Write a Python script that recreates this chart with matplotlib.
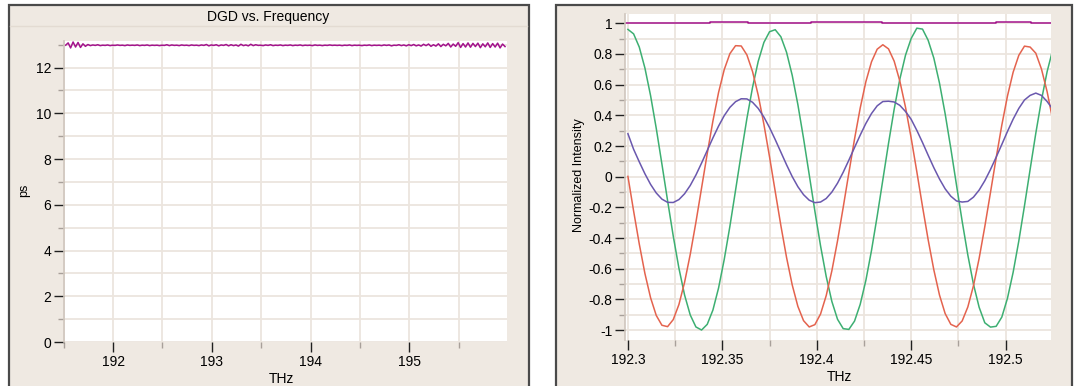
import numpy as np
import matplotlib
matplotlib.use('Agg')
import matplotlib.pyplot as plt
from matplotlib.patches import Rectangle
from matplotlib.ticker import MultipleLocator, FuncFormatter

W, H = 1074, 386

# DGD trace, sampled every 0.025 THz from 191.52 THz
dgd_start = 191.52
dgd_step = 0.025
dgd_ps = [
    12.98, 13.08, 12.86, 13.12, 12.90, 13.10, 12.88, 13.04, 12.93, 13.01,
    12.96, 12.99, 12.97, 13.00, 12.96, 12.98, 12.97, 12.99, 12.96, 12.98,
    12.97, 12.99, 12.97, 12.98, 12.96, 12.99, 12.97, 12.98, 12.97, 12.99,
    12.96, 12.98, 12.97, 12.99, 12.96, 12.98, 12.97, 12.98, 12.96, 12.98,
    12.97, 13.00, 12.96, 12.99, 12.97, 12.98, 12.96, 12.99, 12.97, 12.98,
    12.96, 12.99, 12.97, 12.98, 12.96, 12.99, 12.97, 13.01, 12.95, 12.99,
    12.97, 13.00, 12.95, 12.99, 12.97, 13.01, 12.95, 13.00, 12.96, 12.99,
    12.94, 13.02, 12.96, 12.99, 12.95, 13.02, 12.96, 13.00, 12.97, 12.98,
    12.96, 12.99, 12.97, 13.00, 12.96, 12.98, 12.97, 12.99, 12.96, 12.98,
    12.97, 12.99, 12.96, 12.98, 12.97, 12.99, 12.96, 12.98, 12.97, 12.98,
    12.96, 12.99, 12.97, 12.98, 12.96, 12.98, 12.97, 12.99, 12.97, 12.98,
    12.97, 12.98, 12.96, 12.98, 12.97, 12.99, 12.96, 12.98, 12.97, 12.98,
    12.96, 12.98, 12.97, 12.99, 12.96, 12.98, 12.97, 12.98, 12.96, 12.99,
    12.97, 12.99, 12.95, 12.98, 12.97, 13.00, 12.96, 12.99, 12.95, 13.00,
    12.96, 13.01, 12.95, 12.99, 12.94, 13.02, 12.96, 13.03, 12.93, 13.00,
    12.94, 13.04, 12.92, 13.02, 12.95, 13.06, 12.90, 13.03, 12.93, 13.09,
    12.88, 13.05, 12.90, 13.08, 12.89, 13.06, 12.92, 13.07, 12.87, 13.04,
    12.91, 13.08, 12.88, 13.05, 12.90, 13.07, 12.86, 13.03, 12.92,
]
freq_dgd = np.round(dgd_start + dgd_step * np.arange(len(dgd_ps)), 3)

# normalized intensities, sampled every 0.003 THz from 192.300 THz
norm_start = 192.300
norm_step = 0.003
green = [
    0.960, 0.931, 0.845, 0.708, 0.528, 0.315, 0.082, -0.156, -0.387, -0.596,
    -0.771, -0.901, -0.979, -0.999, -0.962, -0.869, -0.725, -0.539, -0.323, -0.088,
    0.150, 0.379, 0.583, 0.752, 0.875, 0.945, 0.958, 0.912, 0.811, 0.661,
    0.470, 0.250, 0.014, -0.224, -0.450, -0.650, -0.813, -0.929, -0.990, -0.995,
    -0.941, -0.832, -0.676, -0.480, -0.257, -0.020, 0.217, 0.440, 0.636, 0.792,
    0.901, 0.968, 0.962, 0.889, 0.773, 0.610, 0.410, 0.184, -0.054, -0.290,
    -0.510, -0.701, -0.851, -0.952, -0.980, -0.975, -0.915, -0.792, -0.623, -0.419,
    -0.190, 0.048, 0.283, 0.499, 0.685, 0.829,
]
red = [
    0.002, -0.223, -0.438, -0.631, -0.789, -0.904, -0.968, -0.977, -0.931, -0.833,
    -0.688, -0.506, -0.297, -0.073, 0.151, 0.363, 0.549, 0.698, 0.802, 0.854,
    0.852, 0.794, 0.685, 0.531, 0.342, 0.129, -0.096, -0.319, -0.526, -0.705,
    -0.845, -0.938, -0.979, -0.964, -0.895, -0.775, -0.613, -0.418, -0.200, 0.025,
    0.245, 0.447, 0.619, 0.749, 0.831, 0.860, 0.833, 0.753, 0.623, 0.453,
    0.252, 0.032, -0.194, -0.411, -0.607, -0.771, -0.892, -0.962, -0.979, -0.940,
    -0.849, -0.710, -0.532, -0.325, -0.103, 0.122, 0.336, 0.526, 0.681, 0.791,
    0.851, 0.845, 0.805, 0.702, 0.554, 0.369,
]
purple = [
    0.280, 0.179, 0.097, 0.019, -0.050, -0.106, -0.146, -0.167, -0.168, -0.149,
    -0.111, -0.057, 0.011, 0.089, 0.171, 0.253, 0.330, 0.398, 0.452, 0.489,
    0.508, 0.507, 0.485, 0.445, 0.389, 0.320, 0.242, 0.160, 0.078, 0.001,
    -0.065, -0.117, -0.153, -0.169, -0.165, -0.142, -0.100, -0.042, 0.029, 0.108,
    0.190, 0.271, 0.347, 0.412, 0.462, 0.490, 0.492, 0.487, 0.465, 0.425,
    0.374, 0.302, 0.223, 0.140, 0.059, -0.015, -0.079, -0.127, -0.158, -0.165,
    -0.161, -0.133, -0.087, -0.026, 0.047, 0.127, 0.210, 0.295, 0.375, 0.445,
    0.500, 0.530, 0.545, 0.530, 0.490, 0.440,
]
freq_norm = np.round(norm_start + norm_step * np.arange(len(green)), 3)

# total power, a step trace
total_freq = [192.2985, 192.3437, 192.3635, 192.3969, 192.4347, 192.4948, 192.5137, 192.524]
total_level = [1.0, 1.01, 1.0, 1.01, 1.0, 1.01, 1.0, 1.0]

panel_bg = '#EFE9E2'
grid_c = '#ECE5DE'
spine_c = '#CFC6BD'
magenta = '#A3138C'

plt.rcParams['font.family'] = ['Liberation Sans', 'DejaVu Sans']
plt.rcParams['font.size'] = 9.5

fig = plt.figure(figsize=(W / 100, H / 100), dpi=100, facecolor='white')


def fx(px):
    return px / W


def fy(py):
    return 1 - py / H


# panel frames
for x0, x1 in [(8.6, 529), (556.3, 1072)]:
    fig.add_artist(Rectangle((fx(x0), -0.02), fx(x1) - fx(x0), fy(5.2) + 0.02,
                             transform=fig.transFigure, facecolor=panel_bg,
                             edgecolor='#4A4A4A', lw=1.6, zorder=-10))
fig.add_artist(plt.Line2D([fx(10), fx(527)], [fy(26), fy(26)], color='#E3DBD2',
                          lw=1, zorder=-5))
fig.text(fx(268), fy(17), 'DGD vs. Frequency', ha='center', va='center', fontsize=10)

ax1 = fig.add_axes([fx(63.7), fy(342), fx(507) - fx(63.7), fy(41.3) - fy(342)])
ax2 = fig.add_axes([fx(625.1), fy(340.3), fx(1050.9) - fx(625.1), fy(13.6) - fy(340.3)])


def style(ax):
    ax.set_zorder(5)
    ax.set_facecolor('white')
    for s in ['top', 'right', 'bottom']:
        ax.spines[s].set_visible(False)
    ax.spines['left'].set_color(spine_c)
    ax.spines['left'].set_linewidth(1.2)
    ax.grid(True, which='both', color=grid_c, lw=1.3)
    ax.set_axisbelow(True)
    ax.tick_params(which='major', length=7, width=1, color='#202020', pad=2)
    ax.tick_params(which='minor', length=4, width=1, color='#A8A09A')


style(ax1)
ax1.plot(freq_dgd, dgd_ps, color=magenta, lw=1.1)
ax1.set_xlim(191.5, 195.99)
ax1.set_ylim(0, 13.15)
ax1.xaxis.set_major_locator(MultipleLocator(1))
ax1.xaxis.set_minor_locator(MultipleLocator(0.5))
ax1.yaxis.set_major_locator(MultipleLocator(2))
ax1.yaxis.set_minor_locator(MultipleLocator(1))
ax1.set_xlabel('THz', fontsize=10)
ax1.set_ylabel('ps', fontsize=9)
ax1.xaxis.set_label_coords(0.492, -0.1)
ax1.yaxis.set_label_coords(-0.075, 0.505)

style(ax2)
ax2.plot(total_freq, total_level, color=magenta, lw=1.1, drawstyle='steps-post')
ax2.plot(freq_norm, green, color='#3DAF72', lw=1.1)
ax2.plot(freq_norm, red, color='#E4634E', lw=1.1)
ax2.plot(freq_norm, purple, color='#6A58AE', lw=1.1)
ax2.set_xlim(192.2985, 192.524)
ax2.set_ylim(-1.066, 1.063)
ax2.xaxis.set_major_locator(MultipleLocator(0.05))
ax2.xaxis.set_minor_locator(MultipleLocator(0.025))
ax2.yaxis.set_major_locator(MultipleLocator(0.2))
ax2.yaxis.set_minor_locator(MultipleLocator(0.1))
ax2.xaxis.set_major_formatter(FuncFormatter(lambda v, p: '%g' % round(v, 3)))
ax2.yaxis.set_major_formatter(FuncFormatter(lambda v, p: '%g' % round(v, 2)))
ax2.set_xlabel('THz', fontsize=10)
ax2.set_ylabel('Normalized Intensity', fontsize=9)
ax2.xaxis.set_label_coords(0.504, -0.09)
ax2.yaxis.set_label_coords(-0.095, 0.506)

for ax in (ax1, ax2):
    for lab in ax.get_xticklabels() + ax.get_yticklabels():
        lab.set_fontsize(10)

fig.savefig('out.png', dpi=100, facecolor='white')
